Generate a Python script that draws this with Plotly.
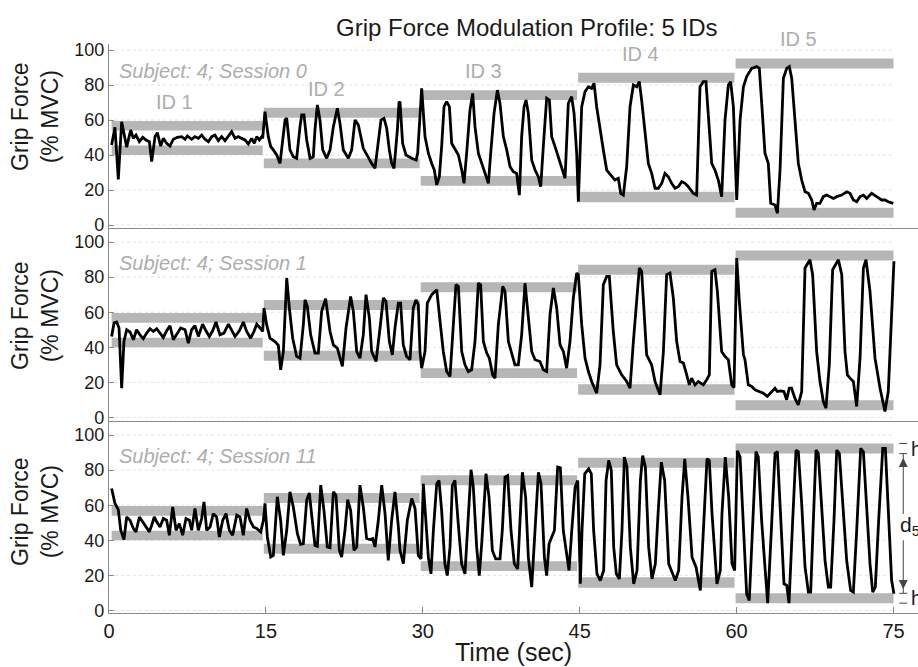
import plotly.graph_objects as go

# ---------------- data ----------------
id_labels = ["ID 1", "ID 2", "ID 3", "ID 4", "ID 5"]
id_start = [0.25, 14.8, 29.8, 44.85, 59.9]
id_end = [14.7, 29.7, 44.75, 59.8, 75.0]
upper_lo = [54.0, 61.3, 71.4, 81.3, 89.4]
upper_hi = [59.5, 67.0, 77.0, 87.0, 95.2]
lower_lo = [40.0, 32.4, 22.5, 13.0, 4.2]
lower_hi = [45.5, 38.0, 28.0, 19.0, 9.8]
y_ticks = [0, 20, 40, 60, 80, 100]
x_ticks = [0, 15, 30, 45, 60, 75]
session_labels = ["Subject: 4; Session 0", "Subject: 4; Session 1", "Subject: 4; Session 11"]

# Session 0
t_s0 = [0.25,0.57,0.89,1.21,1.69,2.07,2.33,2.58,2.90,3.22,3.54,3.86,4.08,4.40,4.62,4.94,5.19,5.51,5.83,6.15,6.53,6.95,7.27,7.49,7.90,8.22,8.54,8.86,9.18,9.50,9.82,10.13,10.45,10.77,11.09,11.41,11.73,12.05,12.36,12.68,13.00,13.32,13.64,13.89,14.12,14.37,14.60,
        14.69,14.91,15.23,15.46,15.71,16.03,16.35,16.51,16.83,16.99,17.30,17.62,17.94,18.26,18.42,18.64,18.90,19.22,19.53,19.69,19.92,20.17,20.43,20.81,21.13,21.45,21.83,22.08,22.40,22.88,23.20,23.52,23.84,24.31,24.63,25.11,25.43,25.75,26.00,26.29,26.55,26.80,27.02,27.25,27.57,27.72,27.82,28.07,28.39,28.94,29.36,29.51,
        29.67,29.89,30.21,30.53,30.85,31.10,31.33,31.58,31.80,32.03,32.28,32.54,32.76,33.08,33.40,33.72,33.94,34.19,34.51,34.77,34.99,35.31,35.63,35.95,36.27,36.49,36.81,37.13,37.38,37.70,38.02,38.34,38.65,38.97,39.23,39.45,39.68,39.87,40.09,40.41,40.73,41.04,41.27,41.52,41.84,42.10,42.32,42.64,42.96,43.28,43.60,43.91,44.23,44.46,44.71,
        44.87,45.19,45.51,45.83,46.14,46.37,46.62,46.94,47.26,47.58,48.06,48.37,48.69,48.92,49.17,49.49,49.81,50.13,50.45,50.70,50.92,51.24,51.56,51.88,52.20,52.52,52.84,53.15,53.47,53.79,54.11,54.43,54.75,55.07,55.38,55.86,56.18,56.50,56.82,57.07,57.30,57.62,57.93,58.25,58.57,58.89,59.21,59.43,59.69,
        60.01,60.33,60.65,60.96,61.44,61.92,62.17,62.40,62.71,63.03,63.26,63.67,63.90,64.15,64.47,64.79,65.04,65.27,65.59,65.90,66.22,66.54,66.86,67.18,67.40,67.65,67.97,68.29,68.61,68.93,69.25,69.57,70.05,70.52,70.84,71.16,71.48,71.80,72.12,72.43,72.91,73.39,73.86,74.18,74.50,74.98]
f_s0 = [45.7,55.8,26.1,59.0,44.4,54.3,49.5,51.4,47.6,50.1,48.6,47.6,36.2,50.5,52.8,45.1,49.5,46.7,45.1,49.0,50.1,50.5,49.0,50.9,49.0,50.5,49.5,51.4,49.0,47.6,50.5,51.4,48.2,50.5,48.2,50.9,53.3,49.5,50.5,49.5,48.6,46.3,49.5,46.7,50.5,48.6,50.5,
        49.5,64.8,50.5,44.8,42.9,40.0,35.2,42.9,60.0,61.0,42.9,39.0,38.1,56.2,62.9,62.9,48.6,38.1,39.0,54.3,68.6,60.0,42.9,38.1,42.9,56.2,66.7,58.1,42.9,38.1,42.9,60.0,57.1,43.8,40.0,35.2,32.4,48.6,60.0,61.0,55.2,42.9,35.2,32.4,54.3,69.9,70.5,46.7,40.0,38.1,37.1,41.0,
        60.0,78.1,50.5,41.0,35.2,31.4,22.9,27.6,44.8,67.6,70.5,67.6,46.7,42.9,40.0,31.4,23.8,41.0,65.7,75.2,56.2,41.0,35.2,30.5,23.8,41.0,63.8,77.1,69.5,50.5,42.9,33.3,30.5,29.5,17.1,50.5,67.6,71.4,63.8,37.1,31.4,27.6,21.9,44.8,72.4,71.4,50.5,44.8,39.0,33.3,26.7,69.5,73.3,63.8,41.0,
        13.3,67.6,76.2,79.0,78.1,81.0,67.6,54.3,42.9,31.4,27.6,25.7,26.7,18.1,17.1,33.3,67.6,80.0,79.0,81.9,71.4,52.4,35.2,29.5,21.0,21.0,23.8,29.5,27.6,23.8,21.0,21.9,24.8,23.8,21.9,18.1,17.1,79.0,81.9,81.9,61.9,35.2,31.4,25.7,16.2,60.0,80.0,81.9,67.6,
        14.3,60.0,79.0,84.8,89.5,90.5,89.5,69.5,41.0,35.2,12.4,11.4,6.7,31.4,83.8,89.5,90.5,83.8,60.0,35.2,25.7,19.0,18.1,14.3,8.6,12.4,12.4,16.2,17.1,16.2,15.2,16.2,17.1,19.0,18.1,14.3,13.3,16.2,17.1,15.2,18.1,16.2,14.3,14.3,13.3,12.4]

# Session 1
t_s1 = [0.25,0.48,0.73,0.96,1.21,1.43,1.69,2.01,2.33,2.64,2.96,3.28,3.60,3.92,4.24,4.56,4.88,5.19,5.51,5.83,6.15,6.53,6.85,7.27,7.58,7.90,8.22,8.54,8.95,9.27,9.59,9.91,10.23,10.61,10.99,11.41,11.73,12.05,12.46,12.84,13.16,13.54,13.86,14.12,14.44,14.69,
        14.82,15.07,15.39,15.87,16.19,16.41,16.67,16.99,17.24,17.56,17.94,18.26,18.58,18.74,18.96,19.28,19.69,20.01,20.33,20.71,21.13,21.45,21.83,22.08,22.31,22.66,23.10,23.36,23.68,23.99,24.31,24.57,24.89,25.11,25.53,25.91,26.23,26.48,26.80,27.09,27.34,27.66,27.88,28.13,28.45,28.78,29.09,29.35,29.57,29.73,
        29.89,30.21,30.43,30.85,31.33,31.65,31.96,32.28,32.60,32.92,33.17,33.40,33.72,34.03,34.35,34.67,34.99,35.31,35.53,35.79,36.11,36.36,36.68,36.90,37.22,37.64,37.86,38.18,38.50,38.81,39.13,39.45,39.77,40.09,40.41,40.73,41.20,41.52,41.84,42.16,42.48,42.80,43.12,43.44,43.75,44.07,44.39,44.71,
        44.87,45.19,45.51,45.83,46.14,46.62,46.94,47.26,47.58,47.83,48.21,48.53,49.01,49.49,49.81,50.13,50.45,50.70,50.92,51.40,51.88,52.20,52.68,53.00,53.31,53.63,53.95,54.27,54.59,54.91,55.23,55.48,55.70,56.02,56.34,56.82,57.14,57.39,57.62,57.93,58.16,58.57,58.89,59.21,59.53,59.75,
        60.01,60.26,60.65,60.80,61.12,61.44,61.76,62.23,62.55,62.93,63.35,63.67,63.89,64.21,64.52,64.78,65.03,65.25,65.57,65.89,66.22,66.54,67.01,67.27,67.65,67.97,68.29,68.54,68.86,69.18,69.73,70.05,70.36,70.59,70.84,71.16,71.48,71.80,72.12,72.37,72.75,73.23,73.71,74.18,74.50,75.04]
f_s1 = [46.2,53.8,54.4,51.0,16.7,43.3,50.0,48.7,44.3,50.0,47.1,44.9,48.1,50.6,49.0,50.6,48.1,45.6,49.4,52.3,44.3,48.1,51.0,50.0,42.4,50.0,52.3,46.2,53.2,49.4,46.2,49.4,54.4,47.1,48.1,53.2,49.4,46.2,49.4,54.4,49.0,45.2,49.0,53.2,51.0,49.0,
        62.4,52.9,45.2,43.3,41.1,27.2,37.6,79.5,62.4,45.2,34.8,33.8,52.9,67.1,63.3,47.1,36.7,36.7,60.5,67.7,49.0,41.4,39.5,33.8,29.1,51.0,69.0,60.5,37.6,33.8,47.1,70.0,56.7,37.6,31.9,51.0,68.1,66.2,43.3,35.7,51.0,65.2,65.2,41.4,34.8,32.9,62.4,67.1,64.3,37.6,
        28.1,37.6,65.2,70.0,72.8,54.8,37.6,26.2,23.4,52.9,75.7,74.7,37.6,30.0,26.2,27.2,43.3,76.6,75.7,43.3,36.7,33.8,24.3,22.4,52.9,74.7,71.9,43.3,35.7,30.0,30.0,47.1,76.6,54.8,37.6,32.9,31.9,27.2,26.2,58.6,73.8,62.4,41.4,37.6,28.1,43.3,68.1,82.3,
        81.4,52.9,33.8,26.2,20.5,13.9,30.0,75.7,80.4,80.4,49.0,30.0,24.3,20.5,16.7,43.3,68.1,85.2,83.3,35.7,30.0,20.5,12.9,37.6,81.4,82.3,68.1,43.3,31.9,31.0,24.3,18.6,22.4,18.6,20.5,18.6,21.5,24.3,83.3,84.2,71.9,37.6,34.8,32.9,18.6,17.1,
        90.9,66.2,35.7,32.9,18.6,17.7,15.8,14.8,13.9,12.0,14.8,16.7,14.8,15.2,14.8,10.1,16.7,16.7,11.0,7.2,14.8,85.2,89.9,81.4,37.6,20.5,9.1,5.3,30.0,84.2,89.9,81.4,37.6,24.3,22.4,20.5,6.3,33.8,85.2,89.9,71.9,33.8,16.7,3.4,14.8,89.0]

# Session 11
t_s11 = [0.25,0.57,0.89,1.12,1.43,1.69,2.01,2.33,2.58,2.90,3.22,3.54,3.86,4.08,4.33,4.56,4.88,5.19,5.51,5.77,6.09,6.41,6.72,7.04,7.36,7.68,7.90,8.22,8.54,8.86,9.08,9.34,9.66,9.97,10.29,10.55,10.87,11.19,11.50,11.82,12.21,12.52,12.84,13.16,13.48,13.80,14.12,14.50,14.76,14.91,
         15.14,15.46,15.71,16.09,16.41,16.67,16.99,17.30,17.62,18.01,18.32,18.58,18.90,19.15,19.38,19.69,19.92,20.24,20.55,20.87,21.13,21.45,21.70,22.02,22.24,22.56,22.82,23.10,23.42,23.68,23.99,24.31,24.63,24.95,25.21,25.43,25.75,26.07,26.39,26.70,27.02,27.34,27.66,27.82,28.14,28.52,28.94,29.26,
         29.57,29.83,30.05,30.27,30.53,30.78,31.01,31.33,31.55,31.80,32.11,32.34,32.60,32.82,33.07,33.39,33.71,34.03,34.29,34.61,34.83,35.15,35.40,35.63,36.04,36.33,36.65,36.97,37.38,37.60,37.86,38.11,38.43,38.75,39.07,39.29,39.52,39.83,40.09,40.41,40.66,41.05,41.30,41.62,41.84,42.07,42.32,42.58,42.89,43.15,43.43,43.75,43.98,44.24,44.56,44.81,
         45.06,45.22,45.48,45.86,46.11,46.33,46.65,46.97,47.29,47.52,47.77,48.02,48.25,48.50,48.79,49.04,49.27,49.52,49.84,50.16,50.48,50.80,51.02,51.28,51.59,51.91,52.23,52.49,52.80,53.12,53.51,53.76,54.14,54.46,54.78,55.04,55.35,55.74,56.12,56.53,56.85,57.17,57.39,57.65,58.12,58.44,58.60,58.92,59.24,59.56,59.81,
         60.07,60.33,60.64,60.96,61.21,61.53,61.85,62.07,62.39,62.71,62.97,63.29,63.67,63.90,64.15,64.53,64.79,65.01,65.36,65.68,65.90,66.22,66.54,66.86,67.08,67.34,67.59,67.81,68.13,68.45,68.77,68.99,69.31,69.57,69.82,70.14,70.52,70.90,71.16,71.48,71.86,72.12,72.43,72.75,73.01,73.26,73.58,73.97,74.22,74.50,74.82,75.04]
f_s11 = [69.5,61.0,57.5,45.7,40.4,53.3,51.4,46.7,44.8,53.3,50.5,47.6,44.8,48.6,53.3,50.5,47.6,52.4,51.4,42.9,59.0,45.7,49.5,42.9,52.4,51.4,45.7,58.1,45.7,52.4,61.9,45.7,47.6,55.2,53.3,41.9,51.4,55.2,45.7,42.9,54.3,53.3,42.9,58.1,51.4,47.6,46.7,44.8,51.4,61.0,
         41.9,30.5,31.4,64.8,51.4,31.4,45.7,67.6,59.0,43.8,37.7,38.1,62.9,67.0,55.2,37.1,36.6,71.4,57.1,36.2,35.8,67.6,65.7,34.3,30.5,45.7,63.2,57.1,34.3,36.2,71.4,59.0,41.0,40.4,41.0,36.2,51.4,71.4,55.2,28.6,51.4,67.6,48.0,34.3,26.7,51.4,63.8,58.1,
         31.3,29.4,72.2,53.2,30.4,20.9,45.6,72.2,74.1,57.0,26.6,19.9,36.1,71.2,74.1,49.4,26.6,20.9,45.6,80.2,70.3,36.1,19.9,38.0,77.9,64.6,34.2,29.4,29.4,45.6,76.0,76.9,45.6,26.6,23.7,53.2,78.8,64.6,30.4,13.3,41.8,78.8,72.2,30.4,19.9,38.0,41.8,45.6,81.7,81.3,45.6,30.4,22.8,45.6,70.3,74.1,
         15.2,45.6,77.9,80.7,77.9,45.6,20.9,17.1,22.8,74.1,85.5,79.8,36.1,20.9,18.0,45.6,87.4,81.7,36.1,15.2,22.8,74.1,88.3,81.7,36.1,18.0,26.6,55.1,84.5,74.1,26.6,22.8,17.1,22.8,64.6,86.4,64.6,30.4,24.7,11.4,45.6,86.4,85.5,55.1,15.2,22.8,55.1,87.4,64.6,26.6,22.8,
         91.0,87.6,45.7,9.5,5.7,51.4,90.5,87.6,51.4,24.8,4.2,41.9,89.5,90.5,61.0,15.2,14.3,4.2,51.4,91.4,90.5,61.0,24.8,10.5,10.5,51.4,91.4,89.5,61.0,28.6,13.3,13.3,51.4,91.4,89.5,61.0,28.6,11.4,10.5,45.7,92.4,90.5,61.0,26.7,10.5,13.3,51.4,92.4,92.4,61.0,17.1,9.5]

sessions = [(t_s0, f_s0), (t_s1, f_s1), (t_s11, f_s11)]
for t, f in sessions:
    assert len(t) == len(f), (len(t), len(f))

# ---------------- style / layout ----------------
FONT = "Liberation Sans, Arial, sans-serif"
AXIS_COL = "#8a8a8a"
GRID_COL = "#e2e2e2"
BAND_COL = "#b6b6b6"
LABEL_GRAY = "#adadad"
TEXT_COL = "#1a1a1a"
MARK_COL = "#444444"

W, H = 918, 667
ML = 109
X_RANGE = [0, 77.34]
domains = [[0.65817, 0.93403], [0.36882, 0.65817], [0.08096, 0.36882]]
y_ranges = [[-1.71, 103.43], [-1.99, 107.98], [-1.42, 107.98]]
ytitle_center_px = [117, 316, 512]
xa = ["x", "x2", "x3"]
ya = ["y", "y2", "y3"]


def px_x(p):  # screen px -> paper x
    return (p - ML) / (W - ML)


def px_y(p):  # screen px -> paper y
    return 1 - p / H


def val_to_paper(v, i):  # data value on panel i -> paper y (for labels drawn above the range)
    r0, r1 = y_ranges[i]
    d0, d1 = domains[i]
    return d0 + (v - r0) / (r1 - r0) * (d1 - d0)


fig = go.Figure()
shapes = []
annotations = []

for i, (t, f) in enumerate(sessions):
    for g in y_ticks:
        shapes.append(dict(type="line", xref=xa[i], yref=ya[i], x0=x_ticks[0], x1=x_ticks[-1],
                           y0=g, y1=g, line=dict(color=GRID_COL, width=1, dash="dot"), layer="below"))
    for k in range(len(id_labels)):
        for lo, hi in ((upper_lo[k], upper_hi[k]), (lower_lo[k], lower_hi[k])):
            shapes.append(dict(type="rect", xref=xa[i], yref=ya[i], x0=id_start[k], x1=id_end[k],
                               y0=lo, y1=hi, fillcolor=BAND_COL, line=dict(width=0), layer="below"))
    fig.add_trace(go.Scatter(x=t, y=f, mode="lines", xaxis=xa[i], yaxis=ya[i],
                             line=dict(color="black", width=2.8), showlegend=False, hoverinfo="skip"))
    annotations.append(dict(xref=xa[i], yref=ya[i], x=0.8, y=87.8, text="<i>" + session_labels[i] + "</i>",
                            showarrow=False, xanchor="left", yanchor="middle",
                            font=dict(family=FONT, size=20, color=LABEL_GRAY)))
    annotations.append(dict(xref="paper", yref="paper", x=px_x(35), y=px_y(ytitle_center_px[i]),
                            text="Grip Force<br>(% MVC)", showarrow=False, textangle=-90,
                            xanchor="center", yanchor="middle",
                            font=dict(family=FONT, size=23, color=TEXT_COL)))

# ID labels above the upper target band of each block (top panel)
for k, lab in enumerate(id_labels):
    annotations.append(dict(xref="x", yref="paper", x=id_start[k] + 6.0,
                            y=val_to_paper(upper_hi[k] + 11, 0),
                            text=lab, showarrow=False, xanchor="center", yanchor="middle",
                            font=dict(family=FONT, size=20, color=LABEL_GRAY)))

# h / d5 markers on bottom panel (edges of the ID 5 target bands)
for edge in (upper_hi[4], upper_lo[4], lower_hi[4], lower_lo[4]):
    shapes.append(dict(type="line", xref="x3", yref="y3", x0=75.55, x1=76.3, y0=edge, y1=edge,
                       line=dict(color=MARK_COL, width=1)))
shapes.append(dict(type="line", xref="x3", yref="y3", x0=75.93, x1=75.93, y0=upper_lo[4], y1=55,
                   line=dict(color=MARK_COL, width=1)))
shapes.append(dict(type="line", xref="x3", yref="y3", x0=75.93, x1=75.93, y0=lower_hi[4], y1=40,
                   line=dict(color=MARK_COL, width=1)))
fig.add_trace(go.Scatter(x=[75.93, 75.93], y=[upper_lo[4] - 2.5, lower_hi[4] + 2.5], mode="markers",
                         xaxis="x3", yaxis="y3", showlegend=False, hoverinfo="skip", cliponaxis=False,
                         marker=dict(symbol=["arrow-up", "arrow-down"], size=9, color=MARK_COL)))
annotations.append(dict(xref="x3", yref="y3", x=75.45, y=48, text="d<sub>5</sub>", showarrow=False,
                        xanchor="left", yanchor="middle", font=dict(family=FONT, size=21, color=TEXT_COL)))
for a, b in ((upper_lo[4], upper_hi[4]), (lower_lo[4], lower_hi[4])):
    annotations.append(dict(xref="x3", yref="y3", x=76.5, y=(a + b) / 2, text="h", showarrow=False,
                            xanchor="left", yanchor="middle", font=dict(family=FONT, size=20, color=TEXT_COL)))

annotations.append(dict(xref="paper", yref="paper", x=0.5, y=px_y(652),
                        text="Time (sec)", showarrow=False, xanchor="center", yanchor="middle",
                        font=dict(family=FONT, size=25, color=TEXT_COL)))
annotations.append(dict(xref="paper", yref="paper", x=px_x(719), y=px_y(28),
                        text="Grip Force Modulation Profile: 5 IDs", showarrow=False,
                        xanchor="right", yanchor="middle",
                        font=dict(family=FONT, size=24, color=TEXT_COL)))

layout = dict(template="none", width=W, height=H, margin=dict(l=ML, r=0, t=0, b=0, autoexpand=False),
              paper_bgcolor="white", plot_bgcolor="white", showlegend=False,
              font=dict(family=FONT, color=TEXT_COL), shapes=shapes, annotations=annotations)

for i in range(3):
    xk = "xaxis" if i == 0 else f"xaxis{i+1}"
    yk = "yaxis" if i == 0 else f"yaxis{i+1}"
    layout[xk] = dict(domain=[0, 1], range=X_RANGE, anchor=ya[i], showline=True, linecolor=AXIS_COL,
                      linewidth=1.3, showgrid=False, zeroline=False, tickvals=x_ticks,
                      ticks="inside" if i == 2 else "", ticklen=6, tickcolor=AXIS_COL,
                      showticklabels=(i == 2), tickfont=dict(family=FONT, size=20, color=TEXT_COL),
                      automargin=False, fixedrange=True)
    layout[yk] = dict(domain=domains[i], range=y_ranges[i], anchor=xa[i], showline=True,
                      linecolor=AXIS_COL, linewidth=1.3, showgrid=False, zeroline=False,
                      tickvals=y_ticks, ticks="inside", ticklen=5, tickcolor=AXIS_COL,
                      tickfont=dict(family=FONT, size=18, color=TEXT_COL),
                      automargin=False, fixedrange=True)

fig.update_layout(**layout)
fig.write_html("out.html", config={"displayModeBar": False},
               post_script="document.body.style.margin='0';")
